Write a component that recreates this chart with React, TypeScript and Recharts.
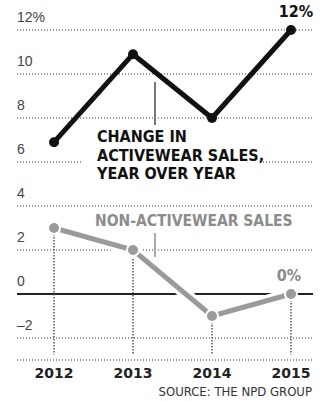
import React from 'react';
import {
  LineChart, Line, XAxis, YAxis, CartesianGrid, ReferenceLine, LabelList,
} from 'recharts';

const years = ['2012', '2013', '2014', '2015'];
const activewear = [6.9, 10.9, 8, 12];
const nonActivewear = [3, 2, -1, 0];
const yTicks = [-2, 0, 2, 4, 6, 8, 10, 12];
const yTickLabels = ['\u20132', '0', '2', '4', '6', '8', '10', '12%'];

const data = years.map((year, i) => ({
  year,
  active: activewear[i],
  nonActive: nonActivewear[i],
}));

const NARROW = '"Liberation Sans Narrow", "DejaVu Sans Condensed", sans-serif';
const WIDE = '"DejaVu Sans", sans-serif';
const REG = '"Liberation Sans", Arial, sans-serif';
const LEFT = 17;
const BLACK = '#111';
const GRAY = '#9a9a9a';

const YTick = (props: any) => {
  const { y, payload } = props;
  const idx = yTicks.indexOf(payload.value);
  return (
    <text x={LEFT} y={y - 8} fontSize={14} fill="#444" fontFamily={REG}>
      {yTickLabels[idx]}
    </text>
  );
};

const XTick = (props: any) => {
  const { x, y, payload } = props;
  return (
    <text x={x} y={y + 10} textAnchor="middle" fontSize={14} fontWeight="bold" fill="#222" fontFamily={WIDE}>
      {payload.value}
    </text>
  );
};

const lastLabel = (color: string, dx: number, size: number) => (props: any) => {
  const { x, y, value, index } = props;
  if (index !== years.length - 1) return null;
  return (
    <text x={x + dx} y={y - 13} textAnchor="middle" fontSize={size} fontWeight="bold" fill={color} fontFamily={NARROW}>
      {value}%
    </text>
  );
};

const App = () => {
  return (
    <div style={{ position: 'absolute', left: 0, top: 0, width: 326, height: 401, background: '#fff', fontFamily: NARROW }}>
      <LineChart width={326} height={401} data={data} margin={{ top: 30, right: 13, left: LEFT - 1, bottom: 11 }}>
        <CartesianGrid vertical={false} stroke="#999" strokeWidth={2} strokeDasharray="1 2" />
        <XAxis dataKey="year" axisLine={false} tickLine={false} height={30} padding={{ left: 37, right: 22 }} tick={<XTick />} interval={0} />
        <YAxis domain={[-3, 12]} ticks={yTicks} width={1} axisLine={false} tickLine={false} tick={<YTick />} interval={0} />
        <ReferenceLine y={0} stroke="#222" strokeWidth={2} />
        {years.map((yr, i) => (
          <ReferenceLine
            key={yr}
            ifOverflow="visible"
            segment={[{ x: yr, y: nonActivewear[i] }, { x: yr, y: -2.75 }]}
            stroke="#555"
            strokeWidth={1.5}
            strokeDasharray="1.5 1.5"
          />
        ))}
        {/* white halo under the gray line */}
        <Line dataKey="nonActive" stroke="#fff" strokeWidth={12} dot={{ r: 7, fill: '#fff', stroke: 'none' }} isAnimationActive={false} />
        <Line dataKey="nonActive" stroke={GRAY} strokeWidth={5} dot={{ r: 5, fill: GRAY, stroke: 'none' }} isAnimationActive={false}>
          <LabelList dataKey="nonActive" content={lastLabel('#8a8a8a', -2, 16)} />
        </Line>
        <Line dataKey="active" stroke={BLACK} strokeWidth={5} dot={{ r: 5, fill: BLACK, stroke: 'none' }} isAnimationActive={false}>
          <LabelList dataKey="active" content={lastLabel(BLACK, 5, 16)} />
        </Line>
      </LineChart>

      {/* label for activewear */}
      <div style={{ position: 'absolute', left: 83, top: 128, width: 176, height: 58, background: '#fff' }} />
      <div style={{ position: 'absolute', left: 154, top: 82, width: 1.5, height: 43, background: '#777' }} />
      <div style={{ position: 'absolute', left: 97, top: 128, fontSize: 16, lineHeight: '18.5px', fontWeight: 'bold', color: BLACK, whiteSpace: 'nowrap' }}>
        CHANGE IN<br />ACTIVEWEAR SALES,<br />YEAR OVER YEAR
      </div>

      {/* label for non-activewear */}
      <div style={{ position: 'absolute', left: 95, top: 212, fontSize: 15.5, lineHeight: '18px', fontWeight: 'bold', color: '#8c8c8c', whiteSpace: 'nowrap' }}>
        NON-ACTIVEWEAR SALES
      </div>
      <div style={{ position: 'absolute', left: 154, top: 233, width: 1.5, height: 24, background: '#aaa' }} />

      <div style={{ position: 'absolute', right: 14, top: 384, fontSize: 13, color: '#333', whiteSpace: 'nowrap' }}>
        SOURCE: THE NPD GROUP
      </div>
    </div>
  );
};

export default App;
